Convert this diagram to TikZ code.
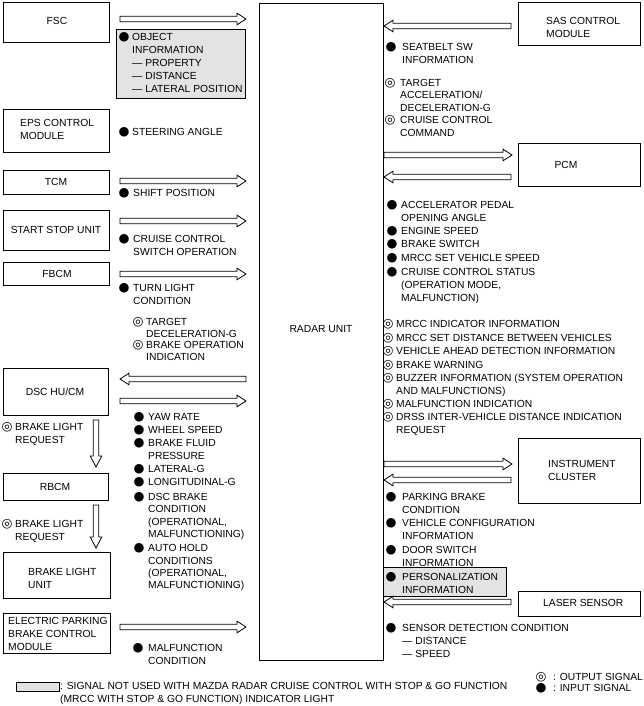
\documentclass[tikz,border=0pt]{standalone}
\usepackage{fontspec}
\setmainfont{Liberation Sans}
\newfontfamily\symfont{DejaVu Sans}
\usetikzlibrary{calc}
\tikzset{
  box/.style={draw, line width=0.8pt, inner sep=0, font=\fontsize{10.3}{13}\selectfont, align=center},
  graybox/.style={draw, line width=0.6pt, fill=gray!22, inner sep=0},
  lbl/.style={inner sep=0, font=\fontsize{10.3}{13}\selectfont, align=left, anchor=north west},
  tight/.style={font=\fontsize{10.3}{11.7}\selectfont},
  mid/.style={font=\fontsize{10.3}{12.4}\selectfont},
  sym/.style={inner sep=0, font=\symfont\fontsize{12.5}{12.5}\selectfont},
  hollow/.style={draw, line width=0.8pt, fill=white, line join=miter},
}
\newcommand{\insym}{●}
\newcommand{\outsym}{◎}
% \sig[style]{name}{symbol}{x symbol}{x text}{y first line}{text}
\newcommand{\sig}[7][]{%
  \node[sym] (#2s) at (#4,#6) {#3};
  \node[lbl,#1] (#2) at (#5,#6-3.8) {#7};}
% \harrow[head length]{start}{tip}
\newcommand{\harrow}[3][9pt]{%
  \coordinate (hb) at ($(#3)!#1!(#2)$);
  \draw[hollow] ($(#2)!2.7pt!90:(#3)$) -- ($(hb)!2.7pt!90:(#3)$) -- ($(hb)!5.8pt!90:(#3)$) -- (#3)
     -- ($(hb)!5.8pt!-90:(#3)$) -- ($(hb)!2.7pt!-90:(#3)$) -- ($(#2)!2.7pt!-90:(#3)$) -- cycle;}
\begin{document}
\begin{tikzpicture}[x=1pt,y=-1pt]
\fill[white] (0,0) rectangle (643,706);
\useasboundingbox (0,0) rectangle (643,706);

% ---------------- boxes ----------------
\node[box, minimum width=124pt, minimum height=657pt] (radar) at (321,331.5) {};
\node[lbl, anchor=center, align=center] (radart) at (321,329) {RADAR UNIT};

\node[box, minimum width=106pt, minimum height=40pt] (fsc) at (56,22) {};
\node[lbl, anchor=center] (fsct) at (57,20.5) {FSC};
\node[box, minimum width=106pt, minimum height=43pt] (eps) at (56,130.5) {};
\node[lbl] (epst) at (20,119.2) {EPS CONTROL\\MODULE};
\node[box, minimum width=106pt, minimum height=24pt] (tcm) at (56,182) {};
\node[lbl, anchor=center] (tcmt) at (56,181.5) {TCM};
\node[box, minimum width=106pt, minimum height=40pt] (ssu) at (56,230) {};
\node[lbl, anchor=center] (ssut) at (56,230) {START STOP UNIT};
\node[box, minimum width=106pt, minimum height=23pt] (fbcm) at (56,273.5) {};
\node[lbl, anchor=center] (fbcmt) at (57,273.5) {FBCM};
\node[box, minimum width=105pt, minimum height=47pt] (dsc) at (55.5,391.5) {};
\node[lbl, anchor=center] (dsct) at (55,392) {DSC HU/CM};
\node[box, minimum width=105pt, minimum height=27pt] (rbcm) at (55.5,486.5) {};
\node[lbl, anchor=center] (rbcmt) at (55,487) {RBCM};
\node[box, minimum width=107pt, minimum height=46pt] (blu) at (56.5,575) {};
\node[lbl] (blut) at (28,568.2) {BRAKE LIGHT\\UNIT};
\node[box, minimum width=107pt, minimum height=40pt] (epb) at (56.5,633) {};
\node[lbl] (epbt) at (8,617.2) {ELECTRIC PARKING\\BRAKE CONTROL\\MODULE};

\node[box, minimum width=122pt, minimum height=43pt] (sas) at (579,23.5) {};
\node[lbl] (sast) at (546,17.2) {SAS CONTROL\\MODULE};
\node[box, minimum width=122pt, minimum height=43pt] (pcm) at (579,164.5) {};
\node[lbl, anchor=center] (pcmt) at (566,165) {PCM};
\node[box, minimum width=122pt, minimum height=65pt] (ic) at (579,470.5) {};
\node[lbl] (ict) at (548,460.2) {INSTRUMENT\\CLUSTER};
\node[box, minimum width=122pt, minimum height=25pt] (laser) at (579,603.5) {};
\node[lbl] (lasert) at (543,599.2) {LASER SENSOR};

% ---------------- gray boxes ----------------
\node[graybox, minimum width=129pt, minimum height=69pt] (objbox) at (180.5,63.5) {};
\node[graybox, minimum width=123pt, minimum height=29pt] (perbox) at (444.5,581.5) {};
\node[graybox, minimum width=43pt, minimum height=9pt] (legbox) at (37.5,686.5) {};

% ---------------- arrows ----------------
\coordinate (a1s) at (120,19);  \coordinate (a1e) at (246,19);
\coordinate (a2s) at (120,181); \coordinate (a2e) at (246,181);
\coordinate (a3s) at (120,221); \coordinate (a3e) at (246,221);
\coordinate (a4s) at (120,274); \coordinate (a4e) at (246,274);
\coordinate (a5s) at (246,379); \coordinate (a5e) at (120,379);
\coordinate (a6s) at (120,401); \coordinate (a6e) at (246,401);
\coordinate (a7s) at (120,627); \coordinate (a7e) at (246,627);
\coordinate (b1s) at (511,26);  \coordinate (b1e) at (384,26);
\coordinate (b2s) at (384,155); \coordinate (b2e) at (512,155);
\coordinate (b3s) at (511,177); \coordinate (b3e) at (384,177);
\coordinate (b4s) at (384,464); \coordinate (b4e) at (512,464);
\coordinate (b5s) at (511,480); \coordinate (b5e) at (384,480);
\coordinate (b6s) at (511,602); \coordinate (b6e) at (384,602);
\coordinate (v1s) at (96,420);  \coordinate (v1e) at (96,467);
\coordinate (v2s) at (96,505);  \coordinate (v2e) at (96,548);
\harrow{a1s}{a1e} \harrow{a2s}{a2e} \harrow{a3s}{a3e} \harrow{a4s}{a4e}
\harrow{a5s}{a5e} \harrow{a6s}{a6e} \harrow{a7s}{a7e}
\harrow{b1s}{b1e} \harrow{b2s}{b2e} \harrow{b3s}{b3e} \harrow{b4s}{b4e}
\harrow{b5s}{b5e} \harrow{b6s}{b6e}
\harrow[11pt]{v1s}{v1e} \harrow[11pt]{v2s}{v2e}

% ---------------- left signals ----------------
\sig{obj}{\insym}{124}{132}{37}{OBJECT\\INFORMATION\\— PROPERTY\\— DISTANCE\\— LATERAL POSITION}
\sig{steer}{\insym}{124}{132}{132}{STEERING ANGLE}
\sig{shift}{\insym}{124}{133}{193}{SHIFT POSITION}
\sig{ccsw}{\insym}{124}{133}{239}{CRUISE CONTROL\\SWITCH OPERATION}
\sig{turn}{\insym}{124}{133}{288}{TURN LIGHT\\CONDITION}
\sig[tight]{tdg}{\outsym}{138}{146}{322}{TARGET\\DECELERATION-G}
\sig[tight]{bop}{\outsym}{138}{146}{345}{BRAKE OPERATION\\INDICATION}
\sig{yaw}{\insym}{139}{148}{417}{YAW RATE}
\sig{whl}{\insym}{139}{148}{430}{WHEEL SPEED}
\sig{bfp}{\insym}{139}{148}{443}{BRAKE FLUID\\PRESSURE}
\sig{latg}{\insym}{139}{148}{469}{LATERAL-G}
\sig{long}{\insym}{139}{148}{482}{LONGITUDINAL-G}
\sig[mid]{dscb}{\insym}{139}{148}{497}{DSC BRAKE\\CONDITION\\(OPERATIONAL,\\MALFUNCTIONING)}
\sig[mid]{ahc}{\insym}{139}{148}{548}{AUTO HOLD\\CONDITIONS\\(OPERATIONAL,\\MALFUNCTIONING)}
\sig{mfc}{\insym}{138}{148}{648}{MALFUNCTION\\CONDITION}
\sig{blr1}{\outsym}{7}{15}{427}{BRAKE LIGHT\\REQUEST}
\sig{blr2}{\outsym}{7}{15}{524}{BRAKE LIGHT\\REQUEST}

% ---------------- right signals ----------------
\sig{seat}{\insym}{391}{402}{47}{SEATBELT SW\\INFORMATION}
\sig[mid]{tad}{\outsym}{390}{400}{83}{TARGET\\ACCELERATION/\\DECELERATION-G}
\sig{ccc}{\outsym}{390}{400}{120}{CRUISE CONTROL\\COMMAND}
\sig{app}{\insym}{392}{401}{205}{ACCELERATOR PEDAL\\OPENING ANGLE}
\sig{eng}{\insym}{392}{401}{231}{ENGINE SPEED}
\sig{bsw}{\insym}{392}{401}{244}{BRAKE SWITCH}
\sig{mset}{\insym}{392}{401}{258}{MRCC SET VEHICLE SPEED}
\sig{ccs}{\insym}{392}{401}{272}{CRUISE CONTROL STATUS\\(OPERATION MODE,\\MALFUNCTION)}
\sig{mii}{\outsym}{388}{396}{324}{MRCC INDICATOR INFORMATION}
\sig{msd}{\outsym}{388}{396}{338}{MRCC SET DISTANCE BETWEEN VEHICLES}
\sig{vad}{\outsym}{388}{396}{351}{VEHICLE AHEAD DETECTION INFORMATION}
\sig{bwn}{\outsym}{388}{396}{365}{BRAKE WARNING}
\sig{buz}{\outsym}{388}{396}{378}{BUZZER INFORMATION (SYSTEM OPERATION\\AND MALFUNCTIONS)}
\sig{mfi}{\outsym}{388}{396}{404}{MALFUNCTION INDICATION}
\sig{drss}{\outsym}{388}{396}{417}{DRSS INTER-VEHICLE DISTANCE INDICATION\\REQUEST}
\sig{pbc}{\insym}{391}{402}{497}{PARKING BRAKE\\CONDITION}
\sig{vci}{\insym}{391}{402}{523}{VEHICLE CONFIGURATION\\INFORMATION}
\sig{dsi}{\insym}{391}{402}{550}{DOOR SWITCH\\INFORMATION}
\sig{pers}{\insym}{391}{402}{577}{PERSONALIZATION\\INFORMATION}
\sig{sdc}{\insym}{391}{402}{628}{SENSOR DETECTION CONDITION\\— DISTANCE\\— SPEED}

% ---------------- legend ----------------
\node[lbl, mid] (legt) at (60,682.2) {: SIGNAL NOT USED WITH MAZDA RADAR CRUISE CONTROL WITH STOP \& GO FUNCTION\\(MRCC WITH STOP \& GO FUNCTION) INDICATOR LIGHT};
\sig{lgo}{\outsym}{541}{553}{677}{: OUTPUT SIGNAL}
\sig{lgi}{\insym}{541}{553}{688}{: INPUT SIGNAL}
\end{tikzpicture}
\end{document}
